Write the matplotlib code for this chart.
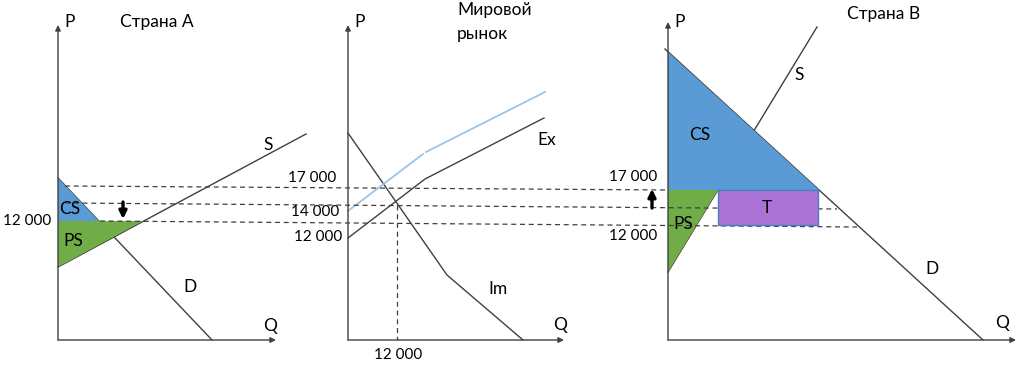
import matplotlib
matplotlib.use("Agg")
import matplotlib.pyplot as plt
from matplotlib.patches import Polygon, Rectangle

plt.rcParams['font.family'] = ['Lato', 'DejaVu Sans']

# ---- diagram geometry (image coordinates, y grows downward) ----
# Panel A (Страна А)
A_axis_x, A_axis_top, base_y, A_axis_right = 58, 25, 340, 276
A_supply = [(58, 267), (306, 134)]
A_demand = [(58, 178), (212, 340)]
A_cs = [(58, 178), (58, 221), (99, 221)]
A_ps = [(58, 221), (143, 221), (58, 267)]

# Panel B (Мировой рынок)
B_axis_x, B_axis_top, B_axis_right = 348, 25, 564
B_import = [(348, 133), (447, 275), (523, 340)]
B_export = [(348, 238), (425, 179), (544, 118)]
B_export_tariff_1 = [(348, 211), (423, 154)]
B_export_tariff_2 = [(426, 152), (545, 92)]
B_eq_q = [(397, 205), (397, 340)]

# Panel C (Страна В)
C_axis_x, C_axis_top, C_axis_right = 668, 22, 1016
C_demand = [(665, 49), (983, 340)]
C_supply = [(668, 272), (817, 27)]
C_cs = [(668, 52), (668, 190), (819, 190)]
C_ps = [(668, 190), (718, 190), (668, 272)]
C_tariff = (718, 190, 100, 35)

# Price dashed guides (17 000, 14 000, 12 000)
guide_17000 = [(65, 186), (668, 190)]
guide_14000 = [(65, 203), (837, 209)]
guide_12000 = [(100, 221), (857, 227)]

LINE = '#404040'
BLUE = '#5B9BD5'
GREEN = '#70AD47'
PURPLE = '#AC73D6'
LIGHTBLUE = '#9DC3E6'

fig = plt.figure(figsize=(10.24, 3.67), dpi=100)
ax = fig.add_axes([0, 0, 1, 1])
ax.set_xlim(0, 1024)
ax.set_ylim(367, 0)
ax.axis('off')


def line(pts, **kw):
    xs, ys = zip(*pts)
    ax.plot(xs, ys, **kw)


def axis_arrow(x0, y0, x1, y1):
    ax.annotate('', xy=(x1, y1), xytext=(x0, y0),
                arrowprops=dict(arrowstyle='-|>', color=LINE, lw=1.0,
                                mutation_scale=8, shrinkA=0, shrinkB=0), zorder=5)


def bold_arrow(x, y0, y1):
    ax.annotate('', xy=(x, y1), xytext=(x, y0),
                arrowprops=dict(arrowstyle='-|>', color='black', lw=2.4,
                                mutation_scale=11, shrinkA=0, shrinkB=0), zorder=6)


# curves
lk = dict(color=LINE, lw=1.0, zorder=3)
line(A_supply, **lk)
line(A_demand, **lk)
line(B_import, **lk)
line(B_export, **lk)
line(B_export_tariff_1, color=LIGHTBLUE, lw=1.3, zorder=3)
line(B_export_tariff_2, color=LIGHTBLUE, lw=1.3, zorder=3)
line(C_demand, **lk)
line(C_supply, **lk)

# surplus fills (cover parts of curves)
for poly, col in [(A_cs, BLUE), (A_ps, GREEN), (C_cs, BLUE), (C_ps, GREEN)]:
    ax.add_patch(Polygon(poly, closed=True, facecolor=col, edgecolor='none', zorder=3.1))

# dashed guides
dk = dict(color=LINE, lw=0.9, ls=(0, (4, 3)), zorder=3.5)
line(guide_17000, **dk)
line(guide_14000, **dk)
line(guide_12000, **dk)
line(B_eq_q, **dk)

# tariff rectangle
x, y, w, h = C_tariff
ax.add_patch(Rectangle((x, y), w, h, facecolor=PURPLE, edgecolor='#4A7EBB', lw=1.0, zorder=4))

# axes
axis_arrow(A_axis_x, base_y, A_axis_x, A_axis_top)
axis_arrow(A_axis_x, base_y, A_axis_right, base_y)
axis_arrow(B_axis_x, base_y, B_axis_x, B_axis_top)
axis_arrow(B_axis_x, base_y, B_axis_right, base_y)
axis_arrow(C_axis_x, base_y, C_axis_x, C_axis_top)
axis_arrow(C_axis_x, base_y, C_axis_right, base_y)

# movement arrows
bold_arrow(123, 202, 219)
bold_arrow(652, 208, 189)

# text
fs = 12.5
t = dict(fontsize=fs, color='black', zorder=7)
n = dict(fontsize=11, color='black', zorder=7)
ax.text(64, 22, 'P', ha='left', va='center', **t)
ax.text(120, 22, 'Страна А', ha='left', va='center', **t)
ax.text(270, 326, 'Q', ha='center', va='center', **t)
ax.text(70, 209, 'CS', ha='center', va='center', **t)
ax.text(73, 241, 'PS', ha='center', va='center', **t)
ax.text(268, 145, 'S', ha='center', va='center', **t)
ax.text(190, 287, 'D', ha='center', va='center', **t)
ax.text(51, 221, '12 000', ha='right', va='center', **n)

ax.text(354, 22, 'P', ha='left', va='center', **t)
ax.text(457, 10, 'Мировой', ha='left', va='center', **t)
ax.text(457, 34, 'рынок', ha='left', va='center', **t)
ax.text(560, 325, 'Q', ha='center', va='center', **t)
ax.text(547, 140, 'Ex', ha='center', va='center', **t)
ax.text(498, 289, 'Im', ha='center', va='center', **t)
ax.text(336, 178, '17 000', ha='right', va='center', **n)
ax.text(339, 212, '14 000', ha='right', va='center', **n)
ax.text(342, 237, '12 000', ha='right', va='center', **n)
ax.text(398, 355, '12 000', ha='center', va='center', **n)

ax.text(674, 22, 'P', ha='left', va='center', **t)
ax.text(847, 14, 'Страна В', ha='left', va='center', **t)
ax.text(1002, 323, 'Q', ha='center', va='center', **t)
ax.text(700, 135, 'CS', ha='center', va='center', **t)
ax.text(683, 224, 'PS', ha='center', va='center', **t)
ax.text(767, 208, 'T', ha='center', va='center', **t)
ax.text(799, 75, 'S', ha='center', va='center', **t)
ax.text(932, 269, 'D', ha='center', va='center', **t)
ax.text(657, 177, '17 000', ha='right', va='center', **n)
ax.text(657, 236, '12 000', ha='right', va='center', **n)

fig.savefig('out.png', dpi=100)
